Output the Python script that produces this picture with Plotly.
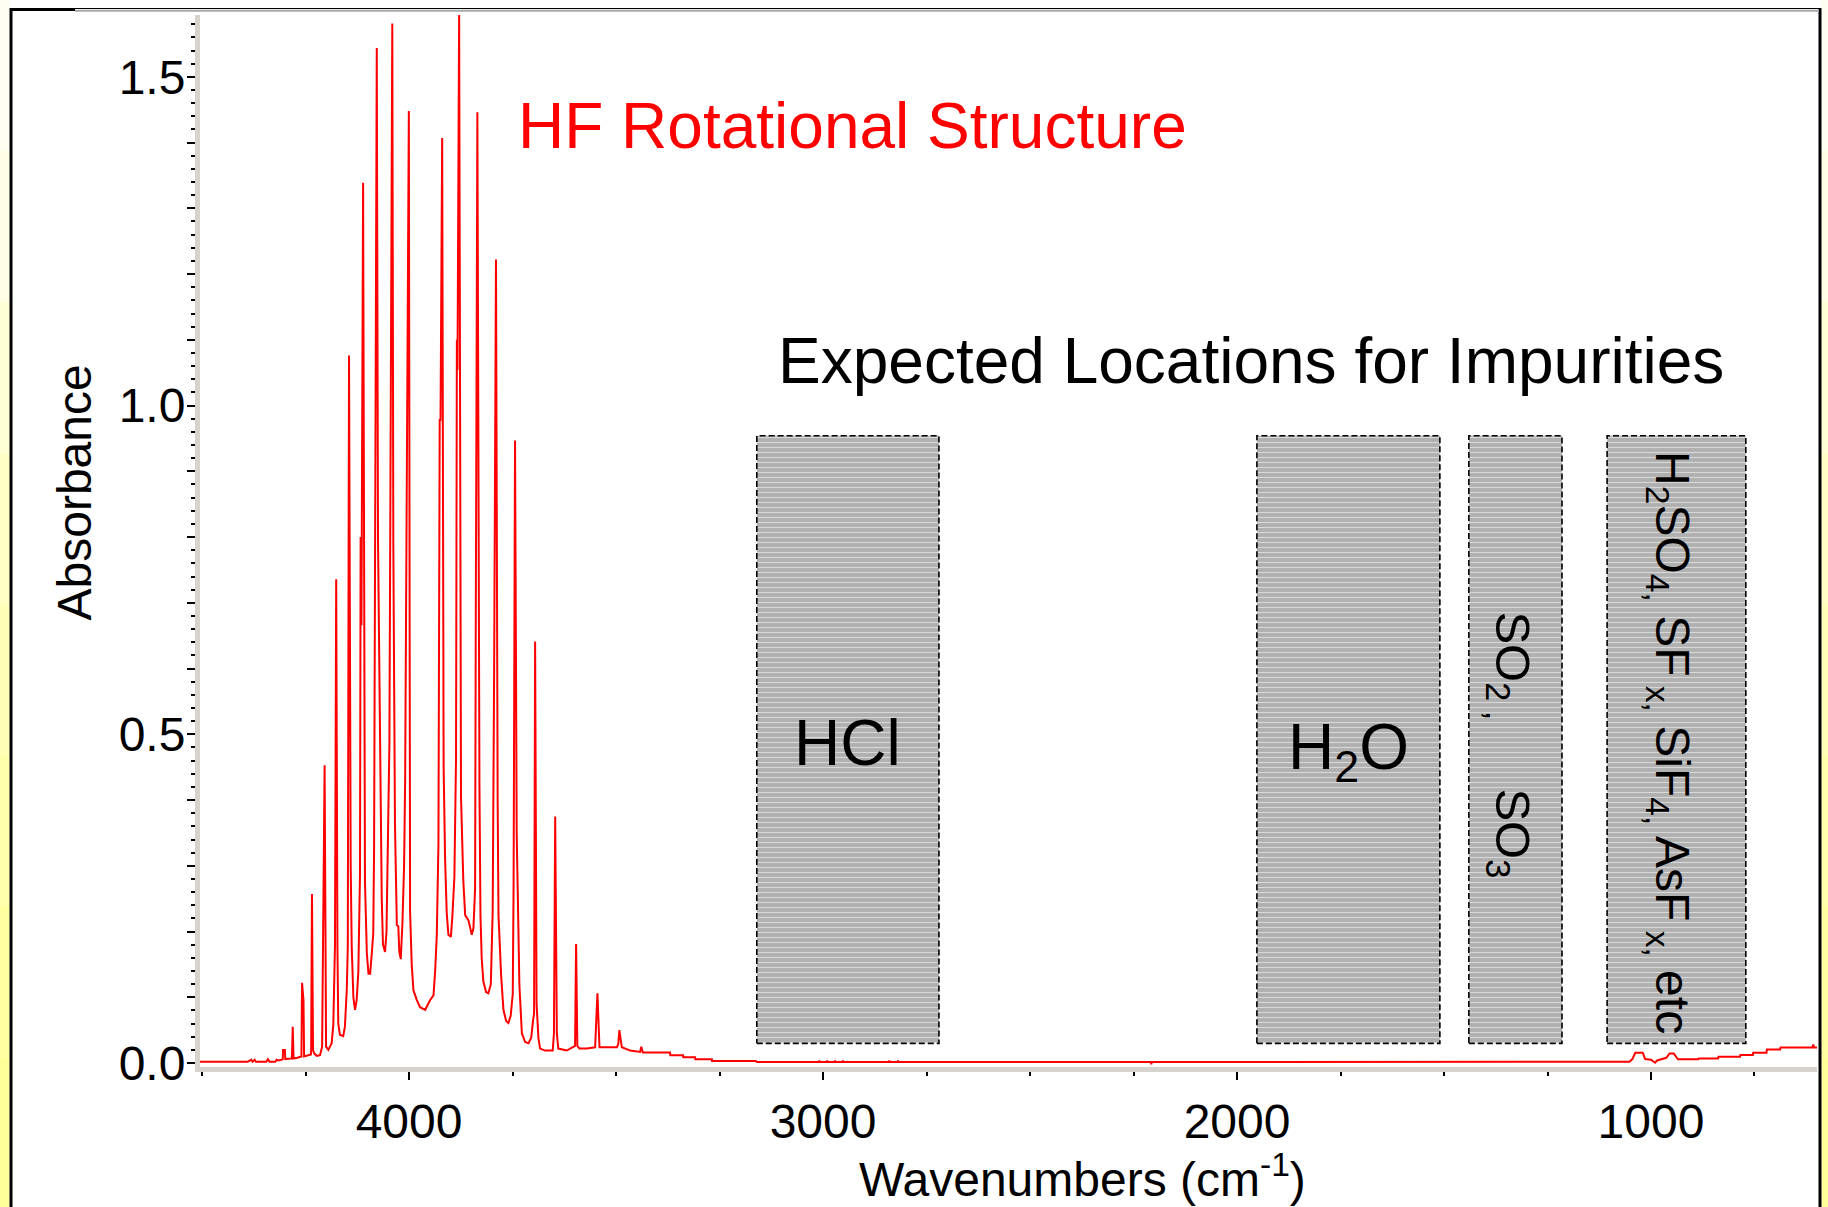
import plotly.graph_objects as go

# ---------------- data ----------------
# R-branch side of the HF spectrum (high wavenumber), left baseline included
r_wn = [4505, 4390, 4381, 4378, 4373, 4370, 4345, 4341, 4337, 4323, 4320, 4316, 4308,
        4305, 4304.5, 4300, 4299, 4290, 4283, 4281, 4279, 4270, 4262, 4260, 4258.5, 4255, 4253.5,
        4245, 4237, 4236.5, 4234.5, 4232, 4229.5, 4223, 4215, 4210, 4208, 4204, 4200.5,
        4195, 4187, 4183, 4179, 4176, 4173, 4171, 4167, 4159, 4155, 4150.5, 4148, 4145,
        4141, 4138.5, 4134.5, 4130.5, 4126.5, 4122.5, 4118.5, 4117, 4115, 4111,
        4106.5, 4102, 4098, 4094, 4090, 4086.5, 4084.5, 4082, 4078, 4075, 4070,
        4066, 4063, 4058, 4054.5, 4050.5, 4047.5, 4040.5, 4038, 4034,
        4029.5, 4026, 4023.5, 4020, 4016, 4012, 4009.5, 4000.5, 3999.5]
r_abs = [0.002, 0.002, 0.005, 0.002, 0.005, 0.002, 0.002, 0.006, 0.002, 0.002, 0.005, 0.004, 0.005,
         0.006, 0.020, 0.020, 0.006, 0.006, 0.007, 0.055, 0.007, 0.008, 0.009, 0.010, 0.122, 0.096, 0.010,
         0.012, 0.013, 0.020, 0.257, 0.020, 0.015, 0.011, 0.012, 0.025, 0.224, 0.453, 0.025,
         0.020, 0.030, 0.058, 0.177, 0.736, 0.177, 0.060, 0.043, 0.041, 0.055, 0.111, 0.177, 1.076,
         0.300, 0.177, 0.100, 0.081, 0.096, 0.139, 0.288, 0.800, 0.666, 1.339,
         0.276, 0.167, 0.136, 0.136, 0.167, 0.197, 0.325, 0.796, 1.544, 0.796, 0.439,
         0.250, 0.180, 0.169, 0.200, 0.360, 0.485, 1.581, 0.787, 0.362,
         0.210, 0.208, 0.169, 0.158, 0.213, 0.300, 0.428, 1.448, 0.684]

# P-branch side (lower wavenumber)
p_wn = [3997.5, 3993.5, 3989.5, 3981.5, 3973.5, 3961, 3949, 3941, 3937, 3933, 3929, 3926, 3924, 3920,
        3916.5, 3913, 3909, 3905, 3899, 3895.5, 3890.5, 3886.5, 3884.5, 3883, 3879,
        3874.5, 3869, 3864.5, 3856.5, 3848.5, 3844.5, 3840.5, 3839, 3835,
        3830, 3827.5, 3824.5, 3820.5, 3814, 3808.5, 3802.5, 3798, 3794.5, 3790,
        3786, 3784, 3777.5, 3772, 3765.5, 3760, 3754.5, 3749.5, 3747.5, 3744,
        3740, 3738.5, 3733.5, 3727.5, 3719.5, 3711.5, 3705, 3700.5, 3698, 3695.5,
        3692, 3687.5, 3683.5, 3671.5, 3653, 3650, 3647, 3643, 3639.5,
        3619, 3603, 3599, 3596.5, 3593.5, 3588.5, 3570.5, 3550.5, 3545, 3540,
        3498, 3494.5, 3492, 3486, 3466, 3442, 3439, 3435.5]
p_abs = [0.230, 0.149, 0.111, 0.096, 0.085, 0.081, 0.096, 0.103, 0.139, 0.195, 0.334, 0.978, 0.978, 1.407,
         0.450, 0.311, 0.228, 0.195, 0.192, 0.222, 0.283, 0.467, 1.100, 1.054, 1.600,
         0.405, 0.278, 0.225, 0.217, 0.195, 0.205, 0.265, 0.635, 1.446,
         0.423, 0.225, 0.159, 0.124, 0.108, 0.106, 0.120, 0.231, 0.597, 1.222,
         0.400, 0.225, 0.132, 0.081, 0.064, 0.061, 0.072, 0.105, 0.270, 0.947,
         0.350, 0.278, 0.119, 0.045, 0.032, 0.030, 0.038, 0.065, 0.075, 0.641,
         0.090, 0.038, 0.022, 0.019, 0.019, 0.045, 0.375, 0.045, 0.022,
         0.019, 0.024, 0.026, 0.181, 0.026, 0.022, 0.022, 0.024, 0.106, 0.024,
         0.024, 0.029, 0.050, 0.024, 0.019, 0.017, 0.025, 0.016]

# long tail down to the right edge
t_wn = [3369.5, 3369, 3338, 3337.5, 3309, 3308.5, 3268.5, 3268, 3162, 3160,
        3010, 3009, 3008, 2991, 2990, 2989, 2972, 2971, 2970, 2953, 2952, 2951,
        2841, 2840, 2839, 2820, 2819, 2818,
        2208, 2207, 2206, 1052, 1045, 1038, 1020, 1014, 1000, 990, 985, 963, 955, 945, 935,
        886, 885, 838, 837, 785, 784, 754, 753, 721, 720, 688, 687, 610, 608, 606, 599]
t_abs = [0.016, 0.012, 0.012, 0.009, 0.009, 0.0056, 0.0056, 0.003, 0.003, 0.0015,
         0.0015, 0.004, 0.0015, 0.0015, 0.004, 0.0015, 0.0015, 0.004, 0.0015, 0.0015, 0.004, 0.0015,
         0.0015, 0.004, 0.0015, 0.0015, 0.004, 0.0015,
         0.0015, -0.002, 0.0015, 0.002, 0.006, 0.0157, 0.0157, 0.006, 0.005, 0.0005, 0.004, 0.008, 0.0147, 0.0147, 0.0056,
         0.0056, 0.0071, 0.0071, 0.0096, 0.0096, 0.0122, 0.0122, 0.0157, 0.0157, 0.0208, 0.0208, 0.0238, 0.0238, 0.028, 0.0238, 0.0238]

# impurity regions (wavenumber limits) and their vertical extent
box_names = ["HCl", "H2O", "SO2/SO3", "H2SO4 etc"]
box_hi = [3160, 1952, 1440, 1106]
box_lo = [2720, 1510, 1215, 771]
box_bottom = 0.030
box_top = 0.954

y_tick_vals = [round(0.1 * i, 1) for i in range(16)]
y_tick_text = [("%.1f" % v) if (i % 5 == 0) else "" for i, v in enumerate(y_tick_vals)]
x_tick_vals = [1000, 2000, 3000, 4000]
x_tick_text = ["1000", "2000", "3000", "4000"]

# ---------------- figure ----------------
W, H = 1828, 1207
ML, MR, MT, MB = 200, 11, 15, 140
PW = W - ML - MR
PH = H - MT - MB


def px(x):
    return (x - ML) / PW


def py(y):
    return (H - MB - y) / PH


FONT = "Liberation Sans, Arial, Helvetica, sans-serif"
NB = "\u00a0"

fig = go.Figure()

for name, hi, lo in zip(box_names, box_hi, box_lo):
    fig.add_trace(go.Scatter(
        x=[hi, lo, lo, hi, hi],
        y=[box_bottom, box_bottom, box_top, box_top, box_bottom],
        mode="lines", fill="toself", name=name,
        fillcolor="#b0b0b0",
        fillpattern=dict(shape="-", bgcolor="#b0b0b0", fgcolor="#ffffff",
                         size=5, solidity=0.22),
        line=dict(color="black", width=1.6, dash="6px,3px"),
        hoverinfo="skip", showlegend=False))

fig.add_trace(go.Scatter(
    x=r_wn + p_wn + t_wn, y=r_abs + p_abs + t_abs,
    mode="lines", line=dict(color="#ff0000", width=2),
    showlegend=False, name="HF"))

shapes = []
# yellow background strips at the outer left/right (screenshot frame)
strip_cols = ["#fffef2", "#fffee4", "#fffed4", "#fffec4", "#fffeb6", "#ffffaa", "#ffffa0", "#ffff9a"]
n = len(strip_cols)
for i, c in enumerate(strip_cols):
    for (a, b) in [(0, 9.5), (1821.5, 1828)]:
        shapes.append(dict(type="rect", xref="paper", yref="paper",
                           x0=px(a), x1=px(b), y0=py(i * H / n), y1=py((i + 1) * H / n),
                           fillcolor=c, line=dict(width=0), layer="below"))
# frame lines
shapes.append(dict(type="line", xref="paper", yref="paper", x0=px(11), x1=px(11),
                   y0=py(8), y1=py(1207), line=dict(color="black", width=3)))
shapes.append(dict(type="line", xref="paper", yref="paper", x0=px(1820), x1=px(1820),
                   y0=py(8), y1=py(1207), line=dict(color="black", width=3)))
shapes.append(dict(type="line", xref="paper", yref="paper", x0=px(10), x1=px(1821),
                   y0=py(8.5), y1=py(8.5), line=dict(color="black", width=1.2)))
shapes.append(dict(type="line", xref="paper", yref="paper", x0=px(75), x1=px(1819),
                   y0=py(10.8), y1=py(10.8), line=dict(color="#a8a8a8", width=2)))
shapes.append(dict(type="line", xref="paper", yref="paper", x0=px(10), x1=px(75),
                   y0=py(9.5), y1=py(9.5), line=dict(color="black", width=3)))

annotations = [
    dict(text="HF Rotational Structure", x=3742, y=1.425, xref="x", yref="y",
         xanchor="left", yanchor="middle", showarrow=False,
         font=dict(family=FONT, size=64, color="#ff0000")),
    dict(text="Expected Locations for Impurities", x=1966, y=1.068, xref="x", yref="y",
         xanchor="center", yanchor="middle", showarrow=False,
         font=dict(family=FONT, size=64, color="black")),
    dict(text="HCl", x=2940, y=0.487, xref="x", yref="y",
         xanchor="center", yanchor="middle", showarrow=False,
         font=dict(family=FONT, size=64, color="black")),
    dict(text="H<sub>2</sub>O", x=1731, y=0.475, xref="x", yref="y",
         xanchor="center", yanchor="middle", showarrow=False,
         font=dict(family=FONT, size=64, color="black")),
    dict(text="SO<sub>2" + NB + ",</sub>" + NB * 5 + "SO<sub>3</sub>", x=1342, y=0.484,
         xref="x", yref="y", textangle=90,
         xanchor="center", yanchor="middle", showarrow=False,
         font=dict(family=FONT, size=49, color="black")),
    dict(text="H<sub>2</sub>SO<sub>4,</sub> SF<sub>" + NB + "x,</sub> SiF<sub>4,</sub> AsF<sub>"
              + NB + "x,</sub> etc",
         x=958, y=0.4876, xref="x", yref="y", textangle=90,
         xanchor="center", yanchor="middle", showarrow=False,
         font=dict(family=FONT, size=48, color="black")),
    dict(text="Absorbance", x=px(73.5), y=py(493), xref="paper", yref="paper",
         textangle=-90, xanchor="center", yanchor="middle", showarrow=False,
         font=dict(family=FONT, size=48, color="black")),
    dict(text="Wavenumbers (cm<sup>-1</sup>)", x=px(1082), y=py(1176), xref="paper", yref="paper",
         xanchor="center", yanchor="middle", showarrow=False,
         font=dict(family=FONT, size=48, color="black")),
]

fig.update_layout(
    width=W, height=H,
    margin=dict(l=ML, r=MR, t=MT, b=MB, pad=0),
    paper_bgcolor="white", plot_bgcolor="white",
    showlegend=False,
    shapes=shapes, annotations=annotations,
    xaxis=dict(range=[4505, 599], showgrid=False, zeroline=False,
               showline=True, linecolor="#d6d3ce", linewidth=5,
               ticks="outside", ticklen=8, tickwidth=1.5, tickcolor="black",
               tickvals=x_tick_vals, ticktext=x_tick_text,
               tickfont=dict(family=FONT, size=48, color="black"),
               minor=dict(dtick=250, tick0=0, ticks="outside", ticklen=4,
                          tickwidth=1.5, tickcolor="black", showgrid=False)),
    yaxis=dict(range=[-0.006, 1.594], showgrid=False, zeroline=False,
               showline=True, linecolor="#d6d3ce", linewidth=5,
               ticks="outside", ticklen=8, tickwidth=1.5, tickcolor="black",
               tickvals=y_tick_vals, ticktext=y_tick_text, ticklabelstandoff=-8,
               tickfont=dict(family=FONT, size=48, color="black"),
               minor=dict(dtick=0.02, tick0=0, ticks="outside", ticklen=4,
                          tickwidth=1.5, tickcolor="black", showgrid=False)),
)

fig.write_html("out.html")
